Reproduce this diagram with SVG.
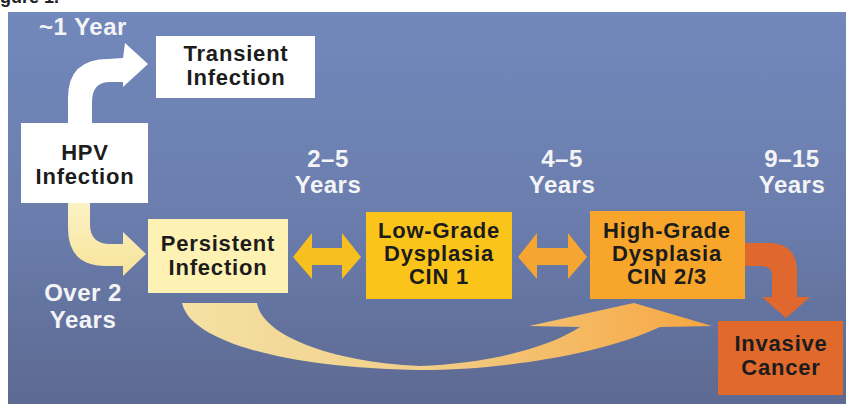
<svg xmlns="http://www.w3.org/2000/svg" width="846" height="408" viewBox="0 0 846 408">
<defs>
<linearGradient id="bg" x1="0" y1="0" x2="0" y2="1">
<stop offset="0" stop-color="#7288bb"/>
<stop offset="0.5" stop-color="#6b7eae"/>
<stop offset="1" stop-color="#5d6a92"/>
</linearGradient>
<linearGradient id="swoosh" gradientUnits="userSpaceOnUse" x1="182" y1="0" x2="712" y2="0">
<stop offset="0" stop-color="#f4e1a4"/>
<stop offset="0.45" stop-color="#f2cf8a"/>
<stop offset="1" stop-color="#f7a640"/>
</linearGradient>
<linearGradient id="yel" gradientUnits="userSpaceOnUse" x1="0" y1="203" x2="0" y2="275">
<stop offset="0" stop-color="#fbf1c4"/>
<stop offset="1" stop-color="#f7e49a"/>
</linearGradient>
<style>
.nt{font-family:"Liberation Sans",Arial,sans-serif;font-weight:bold;font-size:22px;letter-spacing:0.8px;fill:#1c1c1c;text-anchor:middle}
.lb{font-family:"Liberation Sans",Arial,sans-serif;font-weight:bold;font-size:24px;letter-spacing:0.5px;fill:#f4f4f6;text-anchor:middle}
</style>
</defs>
<rect x="0" y="0" width="846" height="408" fill="#ffffff"/>
<text x="-16" y="3" font-family="Liberation Sans, Arial, sans-serif" font-weight="bold" font-size="18" fill="#222">Figure 1.</text>
<rect x="8" y="12" width="838" height="392" fill="url(#bg)"/>

<g id="connectors">
<path id="c-hpv-transient" d="M 68 123 L 68 98 Q 68 59 108 59 L 123 58 L 125 43 L 148 64 L 123 87 L 123 82 L 110 82 Q 92 82 92 102 L 92 123 Z" fill="#ffffff"/>
<path id="c-hpv-persistent" d="M 68 203 L 68 228 Q 68 266 106 266 L 123 266 L 123 276 L 146 254 L 123 232 L 123 244 L 110 244 Q 90 244 90 224 L 90 203 Z" fill="url(#yel)"/>
<path id="c-persistent-low" d="M 293 257 L 312 233 L 312 248 L 342 248 L 342 233 L 361 257 L 342 279 L 342 265 L 312 265 L 312 279 Z" fill="#f8c01e"/>
<path id="c-low-high" d="M 518 257 L 537 233 L 537 248 L 568 248 L 568 233 L 587 257 L 568 279 L 568 265 L 537 265 L 537 279 Z" fill="#f5a531"/>
<path id="c-high-invasive" d="M 745 243 L 768 243 Q 797 243 797 272 L 797 297 L 810 297 L 786 318 L 762 297 L 772 297 L 772 276 Q 772 266 762 266 L 745 266 Z" fill="#e0682e"/>
<path id="c-persistent-high" d="M 182 303 L 257 303 C 262 335 330 362 420 366 C 480 364 545 350 580 327 L 529 326 L 634 303 L 712 326 L 660 327 C 600 355 500 370 420 370 C 280 368 190 340 182 303 Z" fill="url(#swoosh)"/>
</g>

<g id="transient">
<rect x="156" y="36" width="159" height="62" fill="#ffffff"/>
<text class="nt" x="236" y="61">Transient</text>
<text class="nt" x="236" y="85">Infection</text>
</g>
<g id="hpv">
<rect x="21" y="123" width="127" height="80" fill="#ffffff"/>
<text class="nt" x="85" y="160">HPV</text>
<text class="nt" x="85" y="184">Infection</text>
</g>
<g id="persistent">
<rect x="148" y="219" width="140" height="74" fill="#fdf2b3"/>
<text class="nt" x="218" y="251">Persistent</text>
<text class="nt" x="218" y="275">Infection</text>
</g>
<g id="lowgrade">
<rect x="366" y="212" width="146" height="87" fill="#fbc41b"/>
<text class="nt" x="439" y="238">Low-Grade</text>
<text class="nt" x="439" y="261">Dysplasia</text>
<text class="nt" x="439" y="284">CIN 1</text>
</g>
<g id="highgrade">
<rect x="590" y="211" width="155" height="88" fill="#f7a62b"/>
<text class="nt" x="667" y="238">High-Grade</text>
<text class="nt" x="667" y="261">Dysplasia</text>
<text class="nt" x="667" y="284">CIN 2/3</text>
</g>
<g id="invasive">
<rect x="718" y="321" width="125" height="74" fill="#e1692c"/>
<text class="nt" x="781" y="351">Invasive</text>
<text class="nt" x="781" y="375">Cancer</text>
</g>

<g id="labels">
<text class="lb" x="83" y="35">~1 Year</text>
<text class="lb" x="328" y="167">2–5</text>
<text class="lb" x="328" y="193">Years</text>
<text class="lb" x="562" y="167">4–5</text>
<text class="lb" x="562" y="193">Years</text>
<text class="lb" x="792" y="167">9–15</text>
<text class="lb" x="792" y="193">Years</text>
<text class="lb" x="83" y="301">Over 2</text>
<text class="lb" x="83" y="328">Years</text>
</g>
</svg>
